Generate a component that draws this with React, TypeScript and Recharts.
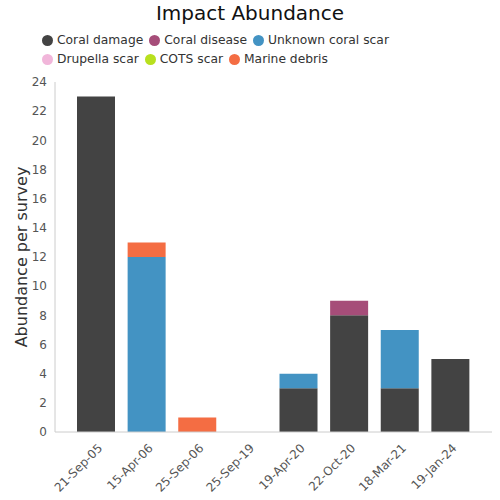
import { Bar, BarChart, XAxis, YAxis, Label } from "recharts";

const surveys = ["21-Sep-05", "15-Apr-06", "25-Sep-06", "25-Sep-19", "19-Apr-20", "22-Oct-20", "18-Mar-21", "19-Jan-24"];
const coralDamage = [23, 0, 0, 0, 3, 8, 3, 5];
const coralDisease = [0, 0, 0, 0, 0, 1, 0, 0];
const unknownScar = [0, 12, 0, 0, 1, 0, 4, 0];
const drupellaScar = [0, 0, 0, 0, 0, 0, 0, 0];
const cotsScar = [0, 0, 0, 0, 0, 0, 0, 0];
const marineDebris = [0, 1, 1, 0, 0, 0, 0, 0];
const yTicks = [0, 2, 4, 6, 8, 10, 12, 14, 16, 18, 20, 22, 24];

const series = [
  { key: "damage", name: "Coral damage", color: "#434343", values: coralDamage },
  { key: "disease", name: "Coral disease", color: "#a64d79", values: coralDisease },
  { key: "unknown", name: "Unknown coral scar", color: "#4393c3", values: unknownScar },
  { key: "drupella", name: "Drupella scar", color: "#f1b6da", values: drupellaScar },
  { key: "cots", name: "COTS scar", color: "#b8e01e", values: cotsScar },
  { key: "debris", name: "Marine debris", color: "#f46d43", values: marineDebris },
];

const data = surveys.map((s, i) => {
  const row: Record<string, string | number> = { survey: s };
  series.forEach((sr) => {
    row[sr.key] = sr.values[i];
  });
  return row;
});

const font = "'DejaVu Sans', sans-serif";

const XTick = (props: any) => {
  const { x, y, payload } = props;
  return (
    <g transform={`translate(${x + 4},${y + 6})`}>
      <text textAnchor="end" fontSize={12} fill="#555" fontFamily={font} transform="rotate(-45)" dy={4}>
        {payload.value}
      </text>
    </g>
  );
};

export default function App() {
  return (
    <div style={{ position: "absolute", left: 0, top: 0, width: 500, height: 500, fontFamily: font }}>
      <div style={{ position: "absolute", top: 0, left: 0, width: 500, textAlign: "center", fontSize: 20, color: "#111", lineHeight: "26px" }}>
        Impact Abundance
      </div>
      <div style={{ position: "absolute", top: 33, left: 42, width: 360, display: "flex", flexWrap: "wrap", rowGap: 4, columnGap: 6 }}>
        {series.map((s) => (
          <div key={s.key} style={{ display: "flex", alignItems: "center", fontSize: 12.3, color: "#333", lineHeight: "15px" }}>
            <span style={{ width: 11, height: 11, borderRadius: "50%", background: s.color, marginRight: 4, display: "inline-block" }} />
            {s.name}
          </div>
        ))}
      </div>
      <BarChart width={500} height={500} data={data} margin={{ top: 82, right: 8, bottom: 0, left: 0 }} style={{ position: "absolute", left: 0, top: 0 }}>
        <XAxis
          dataKey="survey"
          height={68}
          interval={0}
          tick={<XTick />}
          tickLine={false}
          axisLine={{ stroke: "#ccc" }}
          padding={{ left: 16, right: 16 }}
        />
        <YAxis
          width={55}
          domain={[0, 24]}
          ticks={yTicks}
          interval={0}
          tickLine={false}
          axisLine={{ stroke: "#ccc" }}
          tick={{ fontSize: 12, fill: "#555", fontFamily: font }}
        >
          <Label
            content={({ viewBox }: any) => (
              <text
                x={21}
                y={viewBox.y + viewBox.height / 2}
                transform={`rotate(-90, 21, ${viewBox.y + viewBox.height / 2})`}
                textAnchor="middle"
                dominantBaseline="central"
                fontSize={16}
                fill="#333"
                fontFamily={font}
              >
                Abundance per survey
              </text>
            )}
          />
        </YAxis>
        {series.map((s) => (
          <Bar key={s.key} dataKey={s.key} name={s.name} stackId="a" fill={s.color} barSize={38} isAnimationActive={false} />
        ))}
      </BarChart>
    </div>
  );
}
